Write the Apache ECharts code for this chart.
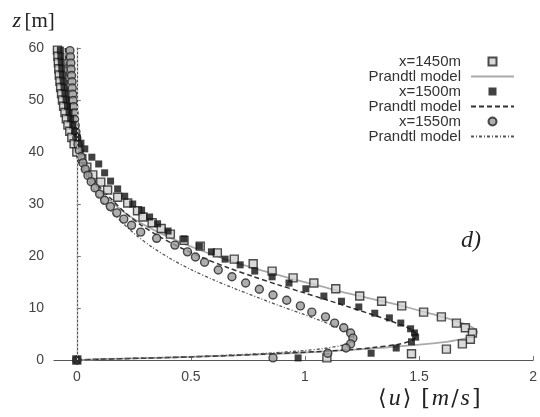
<!DOCTYPE html>
<html>
<head>
<meta charset="utf-8">
<script src="https://cdn.jsdelivr.net/npm/echarts@6/dist/echarts.min.js"></script>
<style>html,body{margin:0;padding:0;background:#fff}#c{width:540px;height:417px}</style>
</head>
<body>
<div id="c"></div>
<script>
// ---- data (u in m/s, z in m) ----
const z1450 = [59.6,58.4,57.2,56.0,54.8,53.6,52.4,51.2,50.0,48.8,47.6,46.4,45.2,44.0,42.8,41.6,40.0,38.7,37.1,35.6,34.2,32.7,31.3,30.2,28.7,27.5,26.4,25.3,24.2,23.0,21.9,20.6,19.4,18.5,17.1,15.8,14.8,13.7,12.3,11.3,10.4,9.2,8.3,7.1,6.2,5.2,4.0,3.1,2.1,1.2,0.4,0];
const u1450 = [-0.085,-0.083,-0.081,-0.079,-0.077,-0.074,-0.071,-0.067,-0.063,-0.058,-0.052,-0.046,-0.039,-0.031,-0.022,-0.012,0.0,0.022,0.044,0.07,0.105,0.135,0.179,0.223,0.266,0.29,0.33,0.37,0.41,0.47,0.541,0.616,0.69,0.773,0.856,0.948,1.039,1.135,1.24,1.336,1.424,1.52,1.598,1.664,1.703,1.734,1.725,1.69,1.62,1.467,1.096,0];

const z1500 = [59.6,58.4,57.2,56.0,54.8,53.6,52.4,51.2,50.0,48.8,47.6,46.4,45.2,44.0,42.8,41.7,40.6,39.0,37.7,36.0,34.4,32.9,31.5,30.0,28.8,27.5,26.2,24.8,23.3,21.9,20.8,19.4,18.3,17.1,16.0,14.8,13.7,12.3,11.3,10.2,9.0,8.1,7.1,6.0,5.2,4.4,3.5,2.3,1.3,0.4,0];
const u1500 = [-0.072,-0.07,-0.068,-0.066,-0.063,-0.06,-0.056,-0.052,-0.047,-0.041,-0.034,-0.027,-0.018,-0.009,0.002,0.018,0.035,0.066,0.096,0.122,0.148,0.179,0.21,0.245,0.284,0.319,0.354,0.4,0.47,0.537,0.59,0.65,0.716,0.78,0.856,0.93,1.004,1.083,1.16,1.236,1.306,1.37,1.42,1.463,1.48,1.485,1.467,1.40,1.29,0.97,0];

const z1550 = [59.5,58.3,57.1,55.9,54.7,53.5,52.3,51.1,49.9,48.7,47.5,46.3,45.1,43.9,42.7,41.5,40.3,39.1,37.9,36.7,35.5,34.3,33.1,31.9,30.7,29.5,28.3,27.1,25.9,24.6,23.4,22.1,20.8,19.8,18.8,17.3,16.0,14.8,13.6,12.5,11.5,10.4,9.2,8.3,7.1,6.2,5.2,4.2,3.1,2.3,1.3,0.4,0];
const u1550 = [-0.03,-0.028,-0.026,-0.025,-0.023,-0.021,-0.02,-0.018,-0.016,-0.014,-0.012,-0.01,-0.007,-0.004,0.0,0.005,0.011,0.018,0.027,0.037,0.049,0.063,0.08,0.1,0.122,0.147,0.175,0.206,0.24,0.28,0.35,0.43,0.485,0.52,0.56,0.62,0.68,0.74,0.80,0.86,0.92,0.98,1.03,1.09,1.13,1.17,1.20,1.21,1.20,1.18,1.10,0.86,0];

// Prandtl model curves
const mu1450 = [0,0.1,0.3,0.5,0.7,0.9,1.05,1.2,1.35,1.5,1.62,1.7,1.745,1.755,1.74,1.7,1.64,1.56,1.46,1.34,1.2,1.06,0.92,0.78,0.65,0.53,0.42,0.32,0.23,0.16,0.1,0.05,0.015,-0.01,-0.025,-0.035,-0.042,-0.047,-0.05];
const mz1450 = [0,0.15,0.35,0.6,0.9,1.25,1.55,1.95,2.4,2.95,3.5,4.1,4.8,5.4,6.1,6.9,7.8,8.8,10.0,11.3,12.7,14.3,15.9,17.6,19.4,21.3,23.3,25.4,27.7,30.1,32.7,35.5,38.5,41.5,45,48.5,52,56,60];
const mu1500 = [0,0.1,0.3,0.5,0.7,0.9,1.05,1.19,1.3,1.4,1.46,1.485,1.49,1.47,1.43,1.37,1.29,1.2,1.1,0.99,0.88,0.77,0.66,0.55,0.45,0.36,0.28,0.21,0.15,0.09,0.05,0.015,-0.01,-0.025,-0.035,-0.042,-0.047,-0.05];
const mz1500 = [0,0.15,0.35,0.6,0.9,1.3,1.6,1.95,2.4,2.95,3.6,4.3,4.9,5.7,6.6,7.6,8.8,10.1,11.5,13.0,14.5,16.1,17.8,19.7,21.7,23.8,26.0,28.4,31.0,33.8,36.6,39.6,42.8,46.2,49.8,53.5,57,60];
const mu1550 = [0,0.1,0.3,0.5,0.7,0.85,0.98,1.08,1.15,1.195,1.215,1.21,1.18,1.13,1.06,0.98,0.89,0.8,0.7,0.6,0.5,0.41,0.33,0.26,0.2,0.14,0.09,0.05,0.02,-0.005,-0.02,-0.03,-0.038,-0.044,-0.048];
const mz1550 = [0,0.15,0.4,0.65,1.0,1.35,1.75,2.2,2.7,3.3,4.0,4.7,5.5,6.5,7.7,9.0,10.4,11.9,13.6,15.4,17.4,19.5,21.7,24.0,26.4,29.0,31.8,34.8,38.0,41.5,45,48.5,52,56,60];

const xTicks = [0, 0.5, 1, 1.5, 2];
const legendNames = ['s1450','m1450','s1500','m1500','s1550','m1550'];
const legendLabels = {s1450:'x=1450m', m1450:'Prandtl model', s1500:'x=1500m', m1500:'Prandtl model', s1550:'x=1550m', m1550:'Prandtl model'};

const pairs = (u, z) => u.map((v, i) => [v, z[i]]);
const squareIcon = 'path://M0,0L10,0L10,10L0,10Z';

const chart = echarts.init(document.getElementById('c'), null, {renderer: 'canvas'});
chart.setOption({
  animation: false,
  backgroundColor: '#fff',
  grid: {left: 54, right: 5, top: 48, bottom: 57},
  legend: {
    data: legendNames.map(n => n.charAt(0) === 'm'
      ? {name: n, itemStyle: {opacity: 0, borderWidth: 0}}
      : (n === 's1550' ? {name: n} : {name: n, icon: squareIcon})),
    orient: 'vertical',
    right: 20, top: 49,
    align: 'right',
    itemWidth: 43, itemHeight: 8, itemGap: 0,
    symbolKeepAspect: true,
    formatter: name => '{t|' + legendLabels[name] + '}',
    textStyle: {
      rich: {t: {fontFamily: 'Liberation Sans, Arial, sans-serif', fontSize: 15, color: '#333', lineHeight: 14.8, width: 110, align: 'right', padding: [0, 5, 0, 0]}}
    },
    selectedMode: false
  },
  xAxis: {
    type: 'value', min: -0.1, max: 2,
    axisLine: {show: true, onZero: false, lineStyle: {color: '#555', width: 1.2}},
    axisTick: {show: true, inside: true, length: 4, customValues: xTicks, lineStyle: {color: '#777'}},
    axisLabel: {customValues: xTicks, fontFamily: 'Liberation Sans, Arial, sans-serif', fontSize: 14, color: '#444', margin: 10,
      formatter: v => String(v)},
    splitLine: {show: false},
    name: '{n|\u27E8}{i|u}{n|\u27E9}{s| }{n|[}{i|m}{n|/}{i|s}{n|]}',
    nameLocation: 'end', nameGap: -156,
    nameTextStyle: {align: 'left', verticalAlign: 'top', padding: [27, 0, 0, 0],
      rich: {
        n: {fontFamily: 'DejaVu Serif, Liberation Serif, serif', fontSize: 22, color: '#222', padding: [0, 1, 0, 1]},
        s: {fontSize: 22, width: 8},
        i: {fontFamily: 'Liberation Serif, DejaVu Serif, serif', fontStyle: 'italic', fontSize: 24, color: '#222', padding: [0, 1, 0, 1]}
      }}
  },
  yAxis: {
    type: 'value', min: 0, max: 60, interval: 10,
    axisLine: {show: true, lineStyle: {color: '#555', width: 1.2}},
    axisTick: {show: true, inside: true, length: 4, lineStyle: {color: '#777'}},
    axisLabel: {fontFamily: 'Liberation Sans, Arial, sans-serif', fontSize: 14, color: '#444', margin: 10},
    splitLine: {show: false},
    name: '{i|z} {n|[m]}',
    nameLocation: 'end', nameGap: 16,
    nameTextStyle: {align: 'right', padding: [0, 22, 0, 0],
      rich: {
        n: {fontFamily: 'Liberation Serif, serif', fontSize: 21, color: '#222'},
        i: {fontFamily: 'Liberation Serif, serif', fontStyle: 'italic', fontSize: 22, color: '#222'}
      }}
  },
  graphic: [{
    type: 'text', left: 461, top: 229,
    style: {text: 'd)', font: 'italic 24px "Liberation Serif", serif', fill: '#222'}
  }],
  series: [
    {name: 's1450', type: 'scatter', symbol: 'rect', symbolSize: 8, z: 3,
     itemStyle: {color: '#d0d0d0', borderColor: '#222', borderWidth: 1.4},
     data: pairs(u1450, z1450),
     markLine: {silent: true, symbol: 'none', label: {show: false},
       lineStyle: {type: [2, 2], color: '#bbb', width: 1},
       data: [{xAxis: 0}]}},
    {name: 'm1450', type: 'line', showSymbol: false, symbol: 'none', smooth: 0.3, z: 2,
     lineStyle: {color: '#aaa', width: 1.8, type: 'solid'}, itemStyle: {color: '#aaa'},
     data: pairs(mu1450, mz1450)},
    {name: 's1500', type: 'scatter', symbol: 'rect', symbolSize: 7, z: 4,
     itemStyle: {color: '#111'},
     data: pairs(u1500, z1500)},
    {name: 'm1500', type: 'line', showSymbol: false, symbol: 'none', smooth: 0.3, z: 2,
     lineStyle: {color: '#333', width: 1.5, type: [5, 3]}, itemStyle: {color: '#333'},
     data: pairs(mu1500, mz1500)},
    {name: 's1550', type: 'scatter', symbol: 'circle', symbolSize: 8, z: 3,
     itemStyle: {color: '#9a9a9a', borderColor: '#222', borderWidth: 1.4},
     data: pairs(u1550, z1550)},
    {name: 'm1550', type: 'line', showSymbol: false, symbol: 'none', smooth: 0.3, z: 2,
     lineStyle: {color: '#555', width: 1.3, type: [3, 2, 1, 2]}, itemStyle: {color: '#555'},
     data: pairs(mu1550, mz1550)}
  ]
});
</script>
</body>
</html>
